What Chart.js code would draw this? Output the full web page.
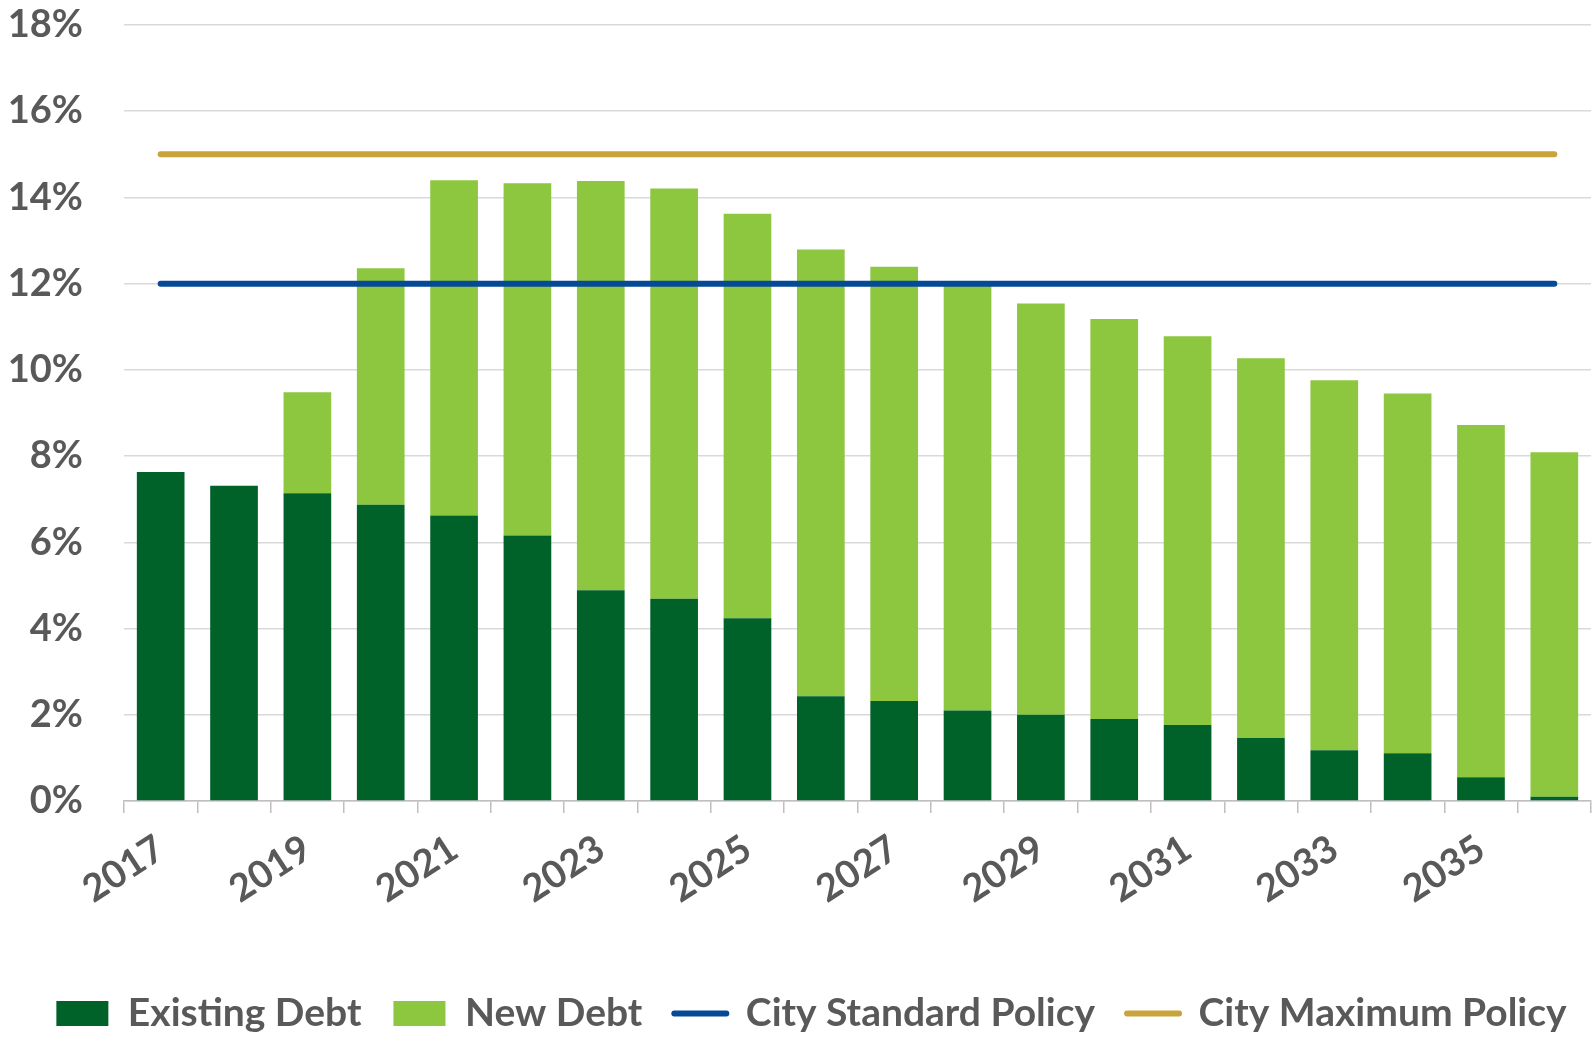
<!DOCTYPE html>
<html>
<head>
<meta charset="utf-8">
<script src="https://cdn.jsdelivr.net/npm/chart.js@4.4.0/dist/chart.umd.min.js"></script>
<style>
  html, body { margin: 0; padding: 0; background: #ffffff; }
  #wrap { width: 1595px; height: 1038px; }
</style>
</head>
<body>
<div id="wrap"><canvas id="chart" width="1595" height="1038"></canvas></div>
<script>
const years = ['2017','2018','2019','2020','2021','2022','2023','2024','2025','2026',
               '2027','2028','2029','2030','2031','2032','2033','2034','2035','2036'];
const xTickLabels = ['2017','','2019','','2021','','2023','','2025','',
                     '2027','','2029','','2031','','2033','','2035',''];
const existingDebt = [7.63, 7.31, 7.14, 6.87, 6.62, 6.16, 4.89, 4.69, 4.24, 2.43,
                      2.32, 2.10, 2.00, 1.90, 1.76, 1.46, 1.18, 1.11, 0.55, 0.10];
const newDebt = [0, 0, 2.34, 5.49, 7.78, 8.17, 9.49, 9.52, 9.38, 10.36,
                 10.07, 9.88, 9.54, 9.28, 9.02, 8.81, 8.58, 8.34, 8.17, 7.99];
const cityStandardPolicy = [12, 12, 12, 12, 12, 12, 12, 12, 12, 12,
                            12, 12, 12, 12, 12, 12, 12, 12, 12, 12];
const cityMaximumPolicy = [15, 15, 15, 15, 15, 15, 15, 15, 15, 15,
                           15, 15, 15, 15, 15, 15, 15, 15, 15, 15];
const yMin = 0, yMax = 18, yStep = 2;

const TEXT = '#595959';
const FONT = 'Lato, "Open Sans", "Liberation Sans", sans-serif';

Chart.defaults.font.family = FONT;
Chart.defaults.font.weight = 'bold';
Chart.defaults.color = TEXT;

// shift the centred legend row slightly right, as in the original
const legendShift = {
  id: 'legendShift',
  afterLayout(chart) {
    if (chart.legend) { chart.legend.left += 16; chart.legend.right += 16; }
  }
};

new Chart(document.getElementById('chart'), {
  plugins: [legendShift],
  data: {
    labels: years,
    datasets: [
      { type: 'bar', label: 'Existing Debt', data: existingDebt, backgroundColor: '#006229',
        borderColor: '#006229', borderWidth: 0, stack: 'debt', order: 2,
        barPercentage: 0.65, categoryPercentage: 1.0 },
      { type: 'bar', label: 'New Debt', data: newDebt, backgroundColor: '#8DC63F',
        borderColor: '#8DC63F', borderWidth: 0, stack: 'debt', order: 2,
        barPercentage: 0.65, categoryPercentage: 1.0 },
      { type: 'line', label: 'City Standard Policy', data: cityStandardPolicy, borderColor: '#064A97',
        backgroundColor: '#064A97', borderWidth: 6, borderCapStyle: 'round', pointRadius: 0,
        pointHoverRadius: 0, fill: false, stack: 'std', order: 1 },
      { type: 'line', label: 'City Maximum Policy', data: cityMaximumPolicy, borderColor: '#C9A43A',
        backgroundColor: '#C9A43A', borderWidth: 6, borderCapStyle: 'round', pointRadius: 0,
        pointHoverRadius: 0, fill: false, stack: 'max', order: 1 }
    ]
  },
  options: {
    responsive: false,
    animation: false,
    devicePixelRatio: 1,
    layout: { padding: { left: 0, right: 4, top: 0, bottom: -5 } },
    scales: {
      x: {
        stacked: true,
        offset: true,
        grid: { display: true, drawOnChartArea: false, drawTicks: true, tickLength: 12,
                color: '#BFBFBF', lineWidth: 1.5, offset: true },
        border: { display: true, color: '#BFBFBF', width: 1.5 },
        ticks: {
          autoSkip: false, maxRotation: 33, minRotation: 33, padding: 13,
          font: { size: 38, weight: 'bold' }, color: TEXT,
          callback: (v, i) => xTickLabels[i]
        },
        afterFit: (scale) => {
          scale.height = 161;
          scale.paddingLeft = 0;
          scale.paddingRight = 0;
        }
      },
      y: {
        stacked: true,
        min: yMin, max: yMax,
        grid: { color: '#D9D9D9', lineWidth: 1.5, drawTicks: false },
        border: { display: false },
        ticks: {
          stepSize: yStep, padding: 41,
          font: { size: 38, weight: 'bold' }, color: TEXT,
          callback: (v) => v + '%'
        },
        afterFit: (scale) => {
          scale.width = 124;
          scale.paddingTop = 25;
          scale.paddingBottom = 0;
        }
      }
    },
    plugins: {
      tooltip: { enabled: false },
      legend: {
        position: 'bottom',
        labels: {
          usePointStyle: true,
          pointStyleWidth: 52,
          boxHeight: 25,
          padding: 32,
          color: TEXT,
          font: { size: 39, weight: 'bold' },
          generateLabels: (chart) => chart.data.datasets.map((ds, i) => ({
            text: ds.label,
            fillStyle: ds.backgroundColor,
            strokeStyle: ds.borderColor,
            lineWidth: ds.type === 'line' ? 6 : 0,
            lineCap: 'round',
            pointStyle: ds.type === 'line' ? 'line' : 'rect',
            fontColor: TEXT,
            hidden: false,
            datasetIndex: i
          }))
        }
      }
    }
  }
});
</script>
</body>
</html>
